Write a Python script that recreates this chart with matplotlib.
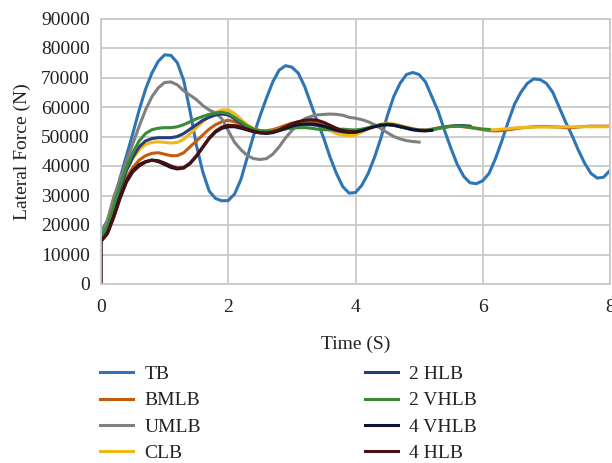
import numpy as np
import matplotlib
matplotlib.use("Agg")
import matplotlib.pyplot as plt

plt.rcParams["font.family"] = ["Liberation Serif", "DejaVu Serif"]

# sample times (s), 0.1 s step
time = np.round(np.arange(0, 8.05, 0.1), 1)

tb = [17500, 21500, 28000, 36000, 43500, 51000, 59000, 66000, 71500, 75500,
      77700, 77500, 75000, 69000, 58500, 47000, 38000, 31500, 29000, 28200,
      28300, 30500, 35500, 43000, 50500, 57000, 63000, 68500, 72500, 74000,
      73500, 71500, 67000, 61000, 55000, 49500, 43000, 37500, 33000, 30800,
      31000, 33500, 37500, 43000, 49500, 57000, 63500, 68000, 71000, 71700,
      71000, 68500, 63500, 58500, 52000, 46000, 40500, 36500, 34300, 34000,
      35000, 37500, 42500, 48500, 55000, 61000, 65000, 68000, 69500, 69300,
      68000, 65000, 60000, 55000, 50500, 45500, 41000, 37500, 35900, 36200,
      38500]

bmlb = [15000, 18000, 24000, 30500, 36000, 39500, 42000, 43500, 44300, 44500,
        44000, 43500, 43500, 44500, 46500, 48500, 50500, 52500, 54000, 55000,
        55500, 55000, 54000, 53000, 52300, 52000, 52000, 52300, 53000, 53800,
        54500, 55000, 55300, 55200, 54800, 54000, 53000, 52000, 51500, 51300,
        51500, 52000, 52800, 53500, 54000, 54200, 54000, 53500, 53000, 52500,
        52200, 52200, 52500, 52900, 53300, 53500, 53500, 53300, 53000, 52700,
        52300, 52000, 51900, 52000, 52300, 52600, 52900, 53100, 53300, 53400,
        53400, 53300, 53200, 53000, 53000, 53200, 53400, 53500, 53500, 53500,
        53500]

umlb = [16500, 21500, 29500, 35500, 41500, 47500, 53500, 59000, 63500, 66500,
        68300, 68500, 67500, 65500, 64000, 62500, 60500, 59000, 58000, 56000,
        52000, 48000, 45500, 43500, 42500, 42200, 42500, 44000, 46500, 49500,
        52000, 54500, 56000, 56800, 57300, 57500, 57600, 57500, 57200, 56500,
        56200, 55700, 55000, 54000, 52700, 51300, 50000, 49200, 48600, 48300,
        48100]

clb = [16000, 19500, 26500, 33000, 38500, 42500, 45500, 47300, 48000, 48200,
       48000, 47800, 48000, 49000, 51000, 53000, 55000, 56800, 58200, 59000,
       59000, 57800, 55800, 54000, 52700, 52000, 51800, 52000, 52500, 53000,
       53500, 54000, 54300, 54200, 53800, 53000, 52000, 51000, 50500, 50300,
       50500, 51500, 52500, 53500, 54200, 54500, 54300, 53800, 53200, 52700,
       52300, 52200, 52400, 52800, 53200, 53500, 53600, 53500, 53200, 52800,
       52500, 52300, 52300, 52500, 52700, 52900, 53000, 53100, 53200, 53200,
       53200, 53200, 53300, 53300, 53300, 53300, 53300, 53300, 53300, 53300,
       53300]

hlb2 = [15500, 19000, 25500, 32500, 38500, 43000, 46500, 48500, 49300, 49600,
        49600, 49600, 50000, 51000, 52500, 54000, 55500, 56500, 57300, 57600,
        57300, 56000, 54500, 53000, 52000, 51500, 51300, 51500, 52000, 52600,
        53200, 53700, 54000, 54000, 53800, 53300, 52600, 52000, 51600, 51400,
        51500, 52000, 52800, 53500, 54000, 54200, 54000, 53500, 53000, 52500,
        52200, 52100, 52300, 52800, 53200, 53500, 53700, 53700, 53500]

vhlb2 = [16000, 19500, 26500, 33500, 39500, 44500, 48500, 51000, 52300, 52800,
         53000, 53000, 53300, 54000, 55000, 56000, 56800, 57500, 58000, 58200,
         57800, 56500, 55000, 53500, 52500, 52000, 51800, 52000, 52300, 52600,
         52800, 53000, 53000, 52800, 52500, 52300, 52300, 52300, 52500, 52300,
         52200, 52500, 53000, 53500, 53900, 54000, 53800, 53300, 52800, 52300,
         52000, 52000, 52300, 52700, 53100, 53400, 53500, 53400, 53100, 52800,
         52500, 52400]

vhlb4 = [14500, 17200, 23000, 29500, 35000, 38500, 40500, 41500, 42000, 41500,
         40500, 39500, 39000, 39300, 40800, 43300, 46300, 49300, 51500, 52800,
         53300, 53300, 52800, 52200, 51600, 51200, 51000, 51300, 52000, 52800,
         53500, 54000, 54300, 54300, 54000, 53500, 52800, 52200, 51800, 51500,
         51500, 52000, 52700, 53300, 53800, 54000, 53800, 53300, 52800, 52300,
         52000, 51900, 52100]

hlb4 = [14500, 17000, 22500, 29000, 34500, 38000, 40000, 41300, 42000, 41800,
        41000, 40000, 39300, 39500, 41000, 43500, 46500, 49500, 51800, 53200,
        53800, 53700, 53200, 52500, 51800, 51300, 51200, 51500, 52300, 53300,
        54300, 55000, 55500, 55700, 55500, 54800, 53800, 52800, 52000, 51600,
        51500]

series = [
    ("TB", tb, "#2e75b6", False),
    ("BMLB", bmlb, "#c55a11", False),
    ("UMLB", umlb, "#808080", False),
    ("CLB", clb, "#f0b81a", False),
    ("2 HLB", hlb2, "#263d7a", False),
    ("2 VHLB", vhlb2, "#3a8a3a", False),
    ("4 VHLB", vhlb4, "#0d1433", True),
    ("4 HLB", hlb4, "#4a1010", True),
]

fig = plt.figure(figsize=(6.12, 4.63), dpi=100)
ax = fig.add_axes([101 / 612, 1 - 284 / 463, 509 / 612, 265.5 / 463])

grid_c = "#c9c9c9"
for label, vals, color, from_zero in series:
    t = time[:len(vals)]
    v = np.asarray(vals, dtype=float)
    if from_zero:
        # these runs start from rest at t = 0
        t = np.r_[0.0, t]
        v = np.r_[0.0, v]
    ax.plot(t, v, color=color, lw=2.2, label=label, solid_joinstyle="round")

ax.set_xlim(0, 8)
ax.set_ylim(0, 90000)
ax.set_xticks([0, 2, 4, 6, 8])
ax.set_yticks(np.arange(0, 90001, 10000))
ax.grid(True, color=grid_c, lw=1.3)
ax.set_axisbelow(True)
for s in ax.spines.values():
    s.set_color(grid_c)
    s.set_linewidth(1.3)
ax.tick_params(length=0, labelsize=14, colors="#222222")
ax.tick_params(axis="y", pad=8)
ax.tick_params(axis="x", pad=11)
ax.set_xlabel("Time (S)", fontsize=14, color="#222222", labelpad=14)
ax.set_ylabel("Lateral Force (N)", fontsize=14, color="#222222", labelpad=7)

fig.legend(loc="upper left", bbox_to_anchor=(82.5 / 612, 1 - 348 / 463),
           ncol=2, frameon=False, fontsize=14, handlelength=1.7,
           handletextpad=0.6, columnspacing=8.4, labelspacing=0.45,
           labelcolor="#222222")

fig.savefig("out.png", dpi=100)
